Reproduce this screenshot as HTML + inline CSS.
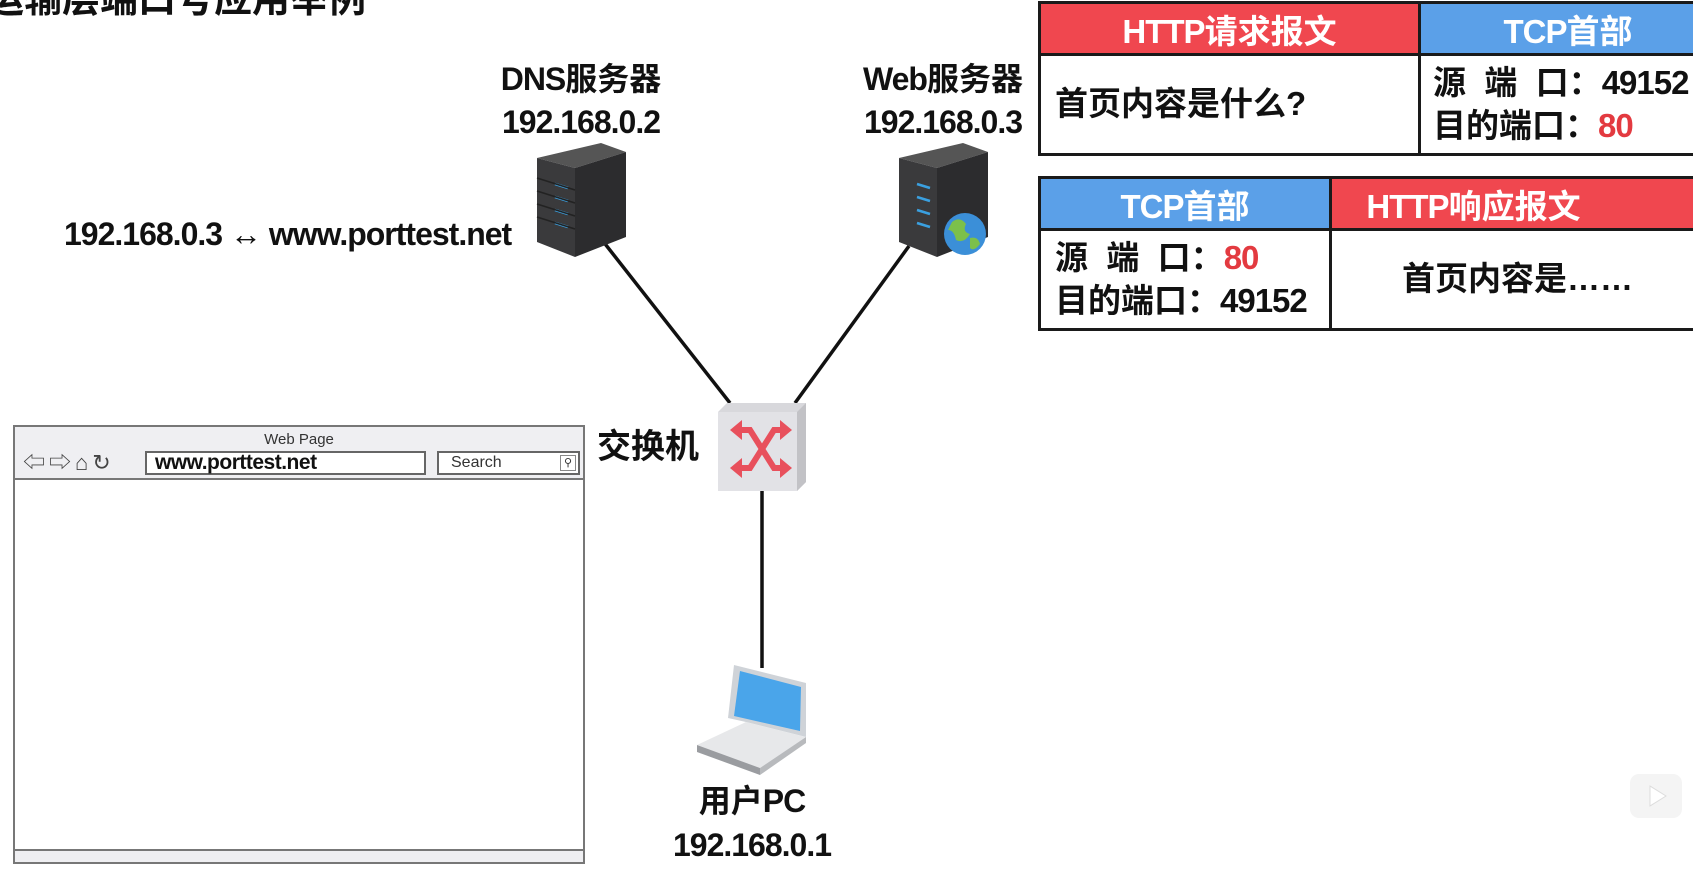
<!DOCTYPE html>
<html><head><meta charset="utf-8">
<style>
*{margin:0;padding:0;box-sizing:border-box}
body{width:1693px;height:883px;background:#fff;position:relative;overflow:hidden;font-family:"Liberation Sans","Noto Sans CJK SC",sans-serif;font-weight:bold;color:#111}
.t{position:absolute;white-space:nowrap;line-height:1}
.c{transform:translateX(-50%)}
.n{letter-spacing:-1px}
table{position:absolute;border-collapse:collapse}
td{border:3px solid #1a1a1a;white-space:nowrap}
.hr{background:#f0474f;color:#fff;text-align:center;font-size:33px;height:52px}
.hb{background:#5ba0e8;color:#fff;text-align:center;font-size:33px;height:52px}
.red{color:#e33a40}
.bd{font-size:33px;line-height:1.3}
</style></head><body>
<div class="t" style="left:-14px;top:-19px;font-size:38px">运输层端口号应用举例</div>

<div class="t c" style="left:581px;top:63px;font-size:32px"><span class="n">DNS</span>服务器</div>
<div class="t c n" style="left:581px;top:106px;font-size:32px">192.168.0.2</div>
<div class="t c" style="left:943px;top:63px;font-size:32px"><span class="n">Web</span>服务器</div>
<div class="t c n" style="left:943px;top:106px;font-size:32px">192.168.0.3</div>
<div class="t n" style="left:64px;top:218px;font-size:32px">192.168.0.3 <span style="font-weight:normal">↔</span> www.porttest.net</div>
<div class="t" style="left:597px;top:430px;font-size:34px">交换机</div>
<div class="t c" style="left:752px;top:785px;font-size:32px">用户<span class="n">PC</span></div>
<div class="t c n" style="left:752px;top:829px;font-size:32px">192.168.0.1</div>

<svg width="1693" height="883" style="position:absolute;left:0;top:0">
<g stroke="#111" stroke-width="3.5">
<line x1="602" y1="240" x2="730" y2="403"/>
<line x1="909" y1="246" x2="795" y2="403"/>
<line x1="762" y1="491" x2="762" y2="668"/>
</g>
<g>
<polygon points="537,158 601,143 626,152 575,168" fill="#555"/>
<polygon points="537,158 575,168 575,257 537,242" fill="#3a3a3c"/>
<polygon points="575,168 626,152 626,237 575,257" fill="#2c2c2e"/>
<g stroke="#3aa0e0" stroke-width="2.5"><line x1="555" y1="184" x2="568" y2="188"/><line x1="555" y1="197" x2="568" y2="201"/><line x1="555" y1="210" x2="568" y2="214"/><line x1="555" y1="223" x2="568" y2="227"/></g>
<g stroke="#222" stroke-width="1.5"><line x1="537" y1="178" x2="575" y2="190"/><line x1="537" y1="191" x2="575" y2="203"/><line x1="537" y1="204" x2="575" y2="216"/><line x1="537" y1="217" x2="575" y2="229"/></g>
</g>
<g transform="translate(362,0)">
<polygon points="537,158 601,143 626,152 575,168" fill="#555"/>
<polygon points="537,158 575,168 575,257 537,242" fill="#3a3a3c"/>
<polygon points="575,168 626,152 626,237 575,257" fill="#2c2c2e"/>
<g stroke="#3aa0e0" stroke-width="2.5"><line x1="555" y1="184" x2="568" y2="188"/><line x1="555" y1="197" x2="568" y2="201"/><line x1="555" y1="210" x2="568" y2="214"/><line x1="555" y1="223" x2="568" y2="227"/></g>
<circle cx="603" cy="234" r="21" fill="#3b8fd8"/>
<path d="M590 222 q8 -6 14 2 q-4 8 4 10 q-6 10 -14 6 q-2 -10 -8 -10z M608 238 q8 -2 10 6 q-6 8 -10 4z" fill="#7cc04a"/>
</g>
<polygon points="718,412 727,403 806,403 806,482 797,491 718,491" fill="#d8d8dc"/>
<polygon points="797,412 806,403 806,482 797,491" fill="#c2c2c6"/>
<rect x="718" y="412" width="79" height="79" fill="#e2e2e6"/>
<g stroke="#e8505c" stroke-width="6" fill="none">
<path d="M738 430 h12 l24 38 h12"/><path d="M738 468 h12 l24 -38 h12"/>
</g>
<g fill="#e8505c">
<polygon points="730,430 742,420 742,440"/><polygon points="730,468 742,458 742,478"/>
<polygon points="792,430 780,420 780,440"/><polygon points="792,468 780,458 780,478"/>
</g>
<polygon points="734,665 806,683 806,737 746,722 728,718" fill="#cfd3d8"/>
<polygon points="740,671 801,687 800,731 734,716" fill="#4aa5ea"/>
<polygon points="697,745 746,722 806,737 760,768" fill="#e7e8ea"/>
<polygon points="697,745 760,768 760,775 697,752" fill="#9a9ca0"/>
<polygon points="760,768 806,737 806,743 760,775" fill="#b8babd"/>
<rect x="1630" y="774" width="52" height="44" rx="9" fill="#f4f4f4"/>
<polygon points="1650,786 1650,806 1666,796" fill="#fff" stroke="#ddd"/>
</svg>

<div style="position:absolute;left:13px;top:425px;width:572px;height:439px;border:2px solid #777;background:#fff">
 <div style="height:53px;background:#efeff2;border-bottom:2px solid #777;position:relative">
  <div class="t" style="left:0;width:100%;text-align:center;top:5px;font-size:15px;font-weight:normal;color:#333">Web Page</div>
  <div class="t" style="left:8px;top:25px;font-size:22px;font-weight:normal;color:#444;letter-spacing:4px">⇦⇨⌂↻</div>
  <div style="position:absolute;left:130px;top:24px;width:281px;height:24px;border:2px solid #666;background:#fff;font-size:21px;padding-left:8px;line-height:20px;letter-spacing:-0.5px">www.porttest.net</div>
  <div style="position:absolute;left:422px;top:24px;width:143px;height:24px;border:2px solid #666;background:#fff;font-size:16px;font-weight:normal;padding-left:12px;line-height:20px;color:#333">Search<span style="position:absolute;right:2px;top:2px;width:16px;height:16px;border:1px solid #888;font-size:11px;line-height:14px;text-align:center">⚲</span></div>
 </div>
 <div style="position:absolute;left:0;right:0;bottom:0;height:13px;background:#efeff2;border-top:2px solid #777"></div>
</div>

<table style="left:1038px;top:1px;width:680px">
<tr><td class="hr" style="width:380px"><span class="n">HTTP</span>请求报文</td><td class="hb"><span class="n">TCP</span>首部</td></tr>
<tr><td class="bd" style="height:100px;padding-left:14px">首页内容是什么?</td><td class="bd" style="padding-left:12px">源&nbsp;&nbsp;端&nbsp;&nbsp;口：<span class="n">49152</span><br>目的端口：<span class="red n">80</span></td></tr>
</table>
<table style="left:1038px;top:176px;width:680px">
<tr><td class="hb" style="width:291px"><span class="n">TCP</span>首部</td><td class="hr" style="padding-right:100px"><span class="n">HTTP</span>响应报文</td></tr>
<tr><td class="bd" style="height:100px;padding-left:14px">源&nbsp;&nbsp;端&nbsp;&nbsp;口：<span class="red n">80</span><br>目的端口：<span class="n">49152</span></td><td class="bd" style="padding-left:70px">首页内容是……</td></tr>
</table>
</body></html>
